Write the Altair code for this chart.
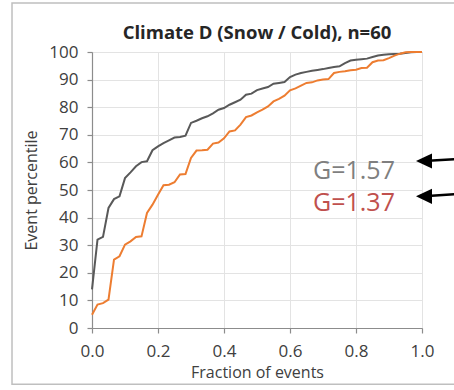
import altair as alt
import pandas as pd

# fraction of events (61 points, i/60)
frac = [i / 60 for i in range(61)]

gray_vals = [14, 32, 33, 43.5, 46.7, 47.7, 54.3, 56.4, 58.6, 60.1, 60.4, 64.4, 65.8, 67, 68, 69,
             69.2, 69.7, 74.3, 75.1, 76, 76.7, 77.8, 79.1, 79.7, 80.9, 81.8, 82.7, 84.5, 84.9, 86.2,
             86.8, 87.3, 88.5, 88.8, 89.1, 90.9, 91.8, 92.4, 92.8, 93.2, 93.5, 93.8, 94.2, 94.6, 94.8,
             96, 96.9, 97.2, 97.4, 97.6, 98.2, 98.7, 99, 99.2, 99.3, 99.4, 99.6, 99.9, 100, 100]

orange_vals = [4.8, 8.5, 9, 10.3, 24.8, 26, 30.2, 31.4, 33, 33.2, 41.7, 44.7, 48.3, 51.7, 51.9, 52.8,
               55.6, 55.8, 61.6, 64.3, 64.4, 64.6, 66.8, 67.2, 68.7, 71.2, 71.6, 73.7, 76.4, 77, 78.1,
               79.1, 80.3, 82.1, 83, 84.2, 86.1, 86.8, 87.8, 88.8, 89, 89.7, 90, 90.2, 92.4, 92.8,
               93, 93.4, 93.6, 94.2, 94.3, 96.3, 96.9, 97, 97.8, 98.7, 99.4, 99.9, 100, 100, 100]

series_names = ["G=1.57", "G=1.37"]
series_colors = ["#595959", "#ed7d31"]

label_texts = ["G=1.57", "G=1.37"]
label_colors = ["#7f7f7f", "#c0504d"]
label_x = [0.918, 0.918]
label_y = [57.0, 45.3]

arrow_tip_x = [1.006, 1.006]
arrow_tip_y = [60.5, 47.7]
arrow_tail_x = [1.12, 1.12]
arrow_tail_y = [61.3, 48.6]

# outer chart-area border (data units, extends past the right edge of the picture)
frame_x = [1.3, -0.2424, -0.2424, 1.3]
frame_y = [117.75, 117.75, -20.4, -20.4]

x_ticks = [0, 0.2, 0.4, 0.6, 0.8, 1.0]
y_ticks = list(range(0, 101, 10))
title_text = "Climate D (Snow / Cold), n=60"

rows = []
for f, g, o in zip(frac, gray_vals, orange_vals):
    rows.append({"frac": f, "pct": g, "series": series_names[0]})
    rows.append({"frac": f, "pct": o, "series": series_names[1]})
df = pd.DataFrame(rows)

lab_df = pd.DataFrame({"x": label_x, "y": label_y, "text": label_texts, "color": label_colors})
arr_df = pd.DataFrame({"x": arrow_tip_x, "y": arrow_tip_y, "x2": arrow_tail_x, "y2": arrow_tail_y})
frame_df = pd.DataFrame({"x": frame_x, "y": frame_y, "k": list(range(len(frame_x)))})

FONT = "Open Sans"

xs = alt.Scale(domain=[0, 1], nice=False, zero=False)
ys = alt.Scale(domain=[0, 100], nice=False)
xa = alt.Axis(title="Fraction of events", values=x_ticks, format=".1f", labelFlush=False,
              tickSize=5, labelPadding=10, titlePadding=5)
ya = alt.Axis(title="Event percentile", values=y_ticks, labelFlush=False,
              tickSize=5, labelPadding=9, titlePadding=9)

frame = alt.Chart(frame_df).mark_line(color="#bfbfbf", strokeWidth=1.5, clip=False).encode(
    x=alt.X("x:Q", scale=xs, axis=xa),
    y=alt.Y("y:Q", scale=ys, axis=ya),
    order="k:Q",
)

lines = alt.Chart(df).mark_line(strokeWidth=2, clip=False).encode(
    x=alt.X("frac:Q", scale=xs, axis=xa),
    y=alt.Y("pct:Q", scale=ys, axis=ya),
    color=alt.Color("series:N", scale=alt.Scale(domain=series_names, range=series_colors), legend=None),
    order=alt.Order("frac:Q"),
)

labels = alt.Chart(lab_df).mark_text(font=FONT, fontSize=25, align="right", baseline="middle").encode(
    x=alt.X("x:Q", scale=xs, axis=xa),
    y=alt.Y("y:Q", scale=ys, axis=ya),
    text="text:N",
    color=alt.Color("color:N", scale=None),
)

arrow_lines = alt.Chart(arr_df).mark_rule(color="black", strokeWidth=2.5, clip=False).encode(
    x=alt.X("x:Q", scale=xs, axis=xa), x2="x2:Q",
    y=alt.Y("y:Q", scale=ys, axis=ya), y2="y2:Q",
)

arrow_heads = alt.Chart(arr_df).mark_point(
    shape="M -1 0 L 1 -0.95 L 1 0.95 Z", filled=True, color="black", opacity=1, size=256, clip=False
).encode(
    x=alt.X("x:Q", scale=xs, axis=xa),
    y=alt.Y("y:Q", scale=ys, axis=ya),
)

one = pd.DataFrame({"t": [title_text]})
title = alt.Chart(one).mark_text(font=FONT, fontSize=18.5, fontWeight="bold", color="#262626",
                                 align="center", baseline="alphabetic").encode(
    x=alt.value(165), y=alt.value(-13.5), text="t:N")

chart = alt.layer(
    frame, lines, labels, arrow_lines, arrow_heads, title
).properties(
    width=330, height=276,
    autosize=alt.AutoSizeParams(type="none"),
    padding={"left": 92, "top": 52, "right": 32, "bottom": 62},
    background="white",
).configure_view(
    stroke="#a6a6a6", strokeWidth=1
).configure_axis(
    labelFont=FONT, labelFontSize=17, labelColor="#404040",
    titleFont=FONT, titleFontSize=16, titleColor="#404040", titleFontWeight="normal",
    gridColor="#e3e3e3", gridWidth=1,
    domainColor="#8c8c8c", domainWidth=1.2,
    tickColor="#8c8c8c", tickWidth=1.2,
)

chart.save("out.html", embed_options={"renderer": "svg", "actions": False})
